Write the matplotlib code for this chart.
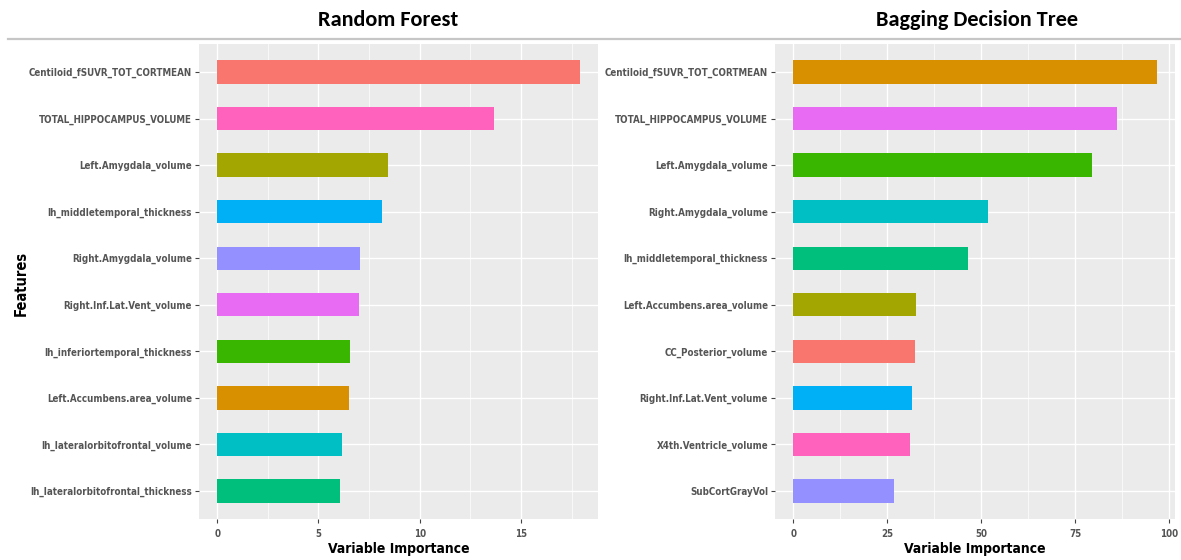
import matplotlib
matplotlib.use("Agg")
import matplotlib.pyplot as plt
from matplotlib import font_manager
from matplotlib.lines import Line2D
from matplotlib.ticker import MultipleLocator

# ---- data (top to bottom) ----
rf_features = [
    "Centiloid_fSUVR_TOT_CORTMEAN",
    "TOTAL_HIPPOCAMPUS_VOLUME",
    "Left.Amygdala_volume",
    "lh_middletemporal_thickness",
    "Right.Amygdala_volume",
    "Right.Inf.Lat.Vent_volume",
    "lh_inferiortemporal_thickness",
    "Left.Accumbens.area_volume",
    "lh_lateralorbitofrontal_volume",
    "lh_lateralorbitofrontal_thickness",
]
rf_importance = [17.9, 13.65, 8.42, 8.13, 7.04, 7.0, 6.55, 6.5, 6.16, 6.06]
rf_colors = ["#F8766D", "#FF62BC", "#A3A500", "#00B0F6", "#9590FF",
             "#E76BF3", "#39B600", "#D89000", "#00BFC4", "#00BF7D"]

bdt_features = [
    "Centiloid_fSUVR_TOT_CORTMEAN",
    "TOTAL_HIPPOCAMPUS_VOLUME",
    "Left.Amygdala_volume",
    "Right.Amygdala_volume",
    "lh_middletemporal_thickness",
    "Left.Accumbens.area_volume",
    "CC_Posterior_volume",
    "Right.Inf.Lat.Vent_volume",
    "X4th.Ventricle_volume",
    "SubCortGrayVol",
]
bdt_importance = [96.7, 86.1, 79.4, 51.8, 46.5, 32.7, 32.4, 31.6, 31.1, 26.8]
bdt_colors = ["#D89000", "#E76BF3", "#39B600", "#00BFC4", "#00BF7D",
              "#A3A500", "#F8766D", "#00B0F6", "#FF62BC", "#9590FF"]

rf_ticks = [0, 5, 10, 15]
bdt_ticks = [0, 25, 50, 75, 100]

# ---- fonts ----
available = {f.name for f in font_manager.fontManager.ttflist}
if "Liberation Sans Narrow" in available:
    narrow = dict(family="Liberation Sans Narrow")
    tick_size, label_size, feat_size = 8.3, 11.5, 12.0
else:
    narrow = dict(family="DejaVu Sans", stretch="condensed")
    tick_size, label_size, feat_size = 7.0, 10.0, 10.5
title_family = "Carlito" if "Carlito" in available else "Lato"

W, H = 1181, 560
fig = plt.figure(figsize=(W / 100, H / 100), dpi=100)
fig.patch.set_facecolor("white")


def px_axes(x0, y0, x1, y1):
    return fig.add_axes([x0 / W, 1 - y1 / H, (x1 - x0) / W, (y1 - y0) / H])


def panel(ax, features, values, colors, ticks, minor_step):
    n = len(features)
    ypos = list(range(n))
    ax.set_facecolor("#EBEBEB")
    ax.barh(ypos, values, height=0.5, color=colors, zorder=3)
    vmax = max(values)
    pad = 0.05 * vmax
    ax.set_xlim(-pad, vmax + pad)
    ax.set_ylim(n - 1 + 0.6, -0.6)
    ax.set_yticks(ypos)
    ax.set_yticklabels(features, color="#555555", fontsize=tick_size,
                       fontweight="bold", **narrow)
    ax.set_xticks(ticks)
    ax.set_xticklabels([str(t) for t in ticks], color="#555555",
                       fontsize=tick_size, fontweight="bold", **narrow)
    ax.xaxis.set_minor_locator(MultipleLocator(minor_step))
    ax.xaxis.set_minor_formatter(plt.NullFormatter())
    ax.grid(True, which="major", color="white", linewidth=1.0, zorder=0)
    ax.grid(True, which="minor", axis="x", color="white", linewidth=0.5,
            zorder=0)
    ax.set_axisbelow(True)
    ax.tick_params(axis="y", which="major", length=3, width=0.8,
                   color="#444444", pad=2)
    ax.tick_params(axis="x", which="major", length=3, width=0.8,
                   color="#444444", pad=4)
    ax.tick_params(axis="x", which="minor", length=0)
    for s in ax.spines.values():
        s.set_visible(False)
    ax.set_xlabel("Variable Importance", fontsize=label_size,
                  fontweight="bold", color="black", labelpad=2, **narrow)


ax1 = px_axes(199, 44, 598, 519)
panel(ax1, rf_features, rf_importance, rf_colors, rf_ticks, 2.5)

ax2 = px_axes(775, 44, 1175, 519)
panel(ax2, bdt_features, bdt_importance, bdt_colors, bdt_ticks, 12.5)

# shared y-axis title
fig.text(21 / W, 1 - 283 / H, "Features", rotation=90, ha="center",
         va="center", fontsize=feat_size, fontweight="bold", color="black",
         **narrow)

# panel titles and separator rule
fig.text(388 / W, 1 - 20 / H, "Random Forest", ha="center", va="center",
         fontsize=16, fontweight="bold", family=title_family, color="black")
fig.text(977 / W, 1 - 20 / H, "Bagging Decision Tree", ha="center",
         va="center", fontsize=16, fontweight="bold", family=title_family,
         color="black")
fig.add_artist(Line2D([8 / W, 1.0], [1 - 39 / H, 1 - 39 / H],
                      transform=fig.transFigure, color="#C6C6C6",
                      linewidth=1.6))

fig.savefig("out.png", dpi=100, facecolor="white")
